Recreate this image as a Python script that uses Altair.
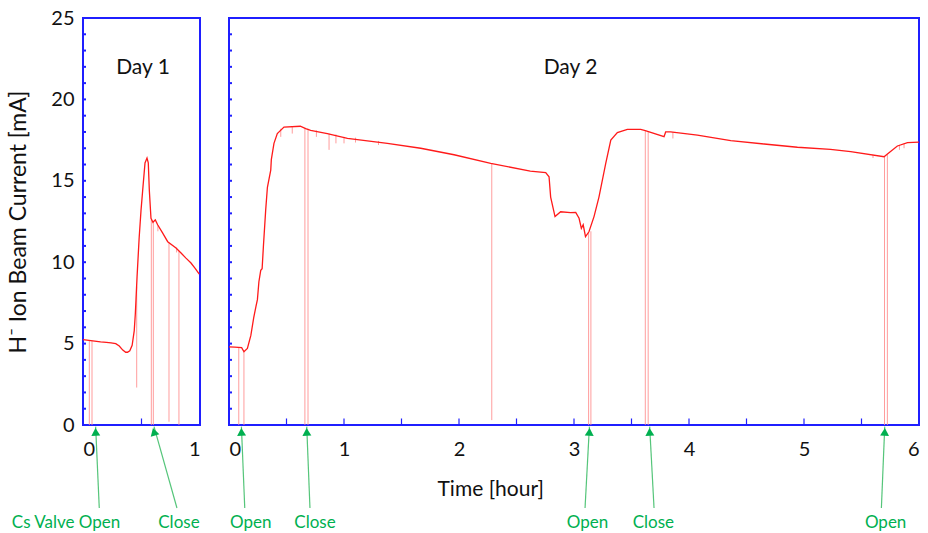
import math
import altair as alt
import pandas as pd

FONT = "Lato"
RED = "#ff1a1a"
SPIKE = "#ff8c8c"
BLUE = "#1f1fff"
GREEN = "#00b050"
ARROW = "#55c57a"

# ---------------- Day 1 data ----------------
day1_t = [0.0, 0.05, 0.10, 0.15, 0.20, 0.24, 0.28, 0.31, 0.34, 0.365, 0.38, 0.40, 0.42, 0.438,
          0.447, 0.453, 0.462, 0.48, 0.496, 0.51, 0.53, 0.547, 0.558, 0.567, 0.581, 0.598, 0.618,
          0.638, 0.68, 0.724, 0.795, 0.838, 0.88, 0.923, 0.96, 0.994]
day1_i = [5.25, 5.2, 5.15, 5.1, 5.08, 5.05, 5.0, 4.85, 4.6, 4.47, 4.47, 4.56, 4.9, 5.8,
          6.8, 7.7, 9.1, 11.5, 13.2, 14.4, 16.1, 16.4, 16.1, 14.4, 12.7, 12.45, 12.6,
          12.3, 11.8, 11.26, 10.87, 10.56, 10.25, 9.95, 9.6, 9.27]

day1_spike_t = [0.054, 0.077, 0.459, 0.584, 0.601, 0.64, 0.735, 0.80, 0.82]
day1_spike_top = [5.2, 5.18, 8.5, 12.6, 12.45, 12.25, 11.2, 10.9, 10.7]
day1_spike_bot = [0.0, 0.0, 2.3, 0.0, 0.0, 11.9, 0.2, 10.6, 0.0]

# ---------------- Day 2 data ----------------
day2_t = [0.0, 0.05, 0.11, 0.13, 0.16, 0.19, 0.215, 0.235, 0.247, 0.26, 0.276, 0.288, 0.299,
          0.319, 0.334, 0.363, 0.368, 0.391, 0.42, 0.478, 0.62, 0.667, 0.71, 0.855, 1.03,
          1.377, 1.667, 1.957, 2.276, 2.62, 2.754, 2.783, 2.797, 2.835, 2.884, 2.97, 3.015,
          3.044, 3.064, 3.08, 3.1, 3.13, 3.174, 3.217, 3.276, 3.32, 3.377, 3.464, 3.58, 3.62,
          3.783, 3.797, 3.84, 4.073, 4.363, 4.653, 4.943, 5.23, 5.406, 5.696, 5.739, 5.812,
          5.9, 6.0]
day2_i = [4.8, 4.78, 4.75, 4.5, 4.7, 5.5, 6.6, 7.3, 7.7, 8.8, 9.5, 9.6, 10.95,
          13.2, 14.6, 15.66, 16.3, 17.3, 17.9, 18.3, 18.35, 18.2, 18.1, 17.9, 17.6,
          17.3, 17.0, 16.6, 16.07, 15.6, 15.5, 15.25, 14.0, 12.8, 13.1, 13.05, 13.06,
          12.7, 12.08, 12.3, 11.57, 11.87, 12.8, 14.0, 16.07, 17.5, 17.96, 18.16, 18.16, 18.08,
          17.71, 18.0, 18.0, 17.81, 17.47, 17.26, 17.06, 16.93, 16.79, 16.48, 16.73, 17.14,
          17.34, 17.38]

day2_spike_t = [0.085, 0.13, 0.66, 0.687, 2.285, 3.127, 3.147, 3.62, 3.645, 5.70, 5.725,
                0.45, 0.55, 0.76, 0.87, 0.93, 1.0, 1.1, 1.3, 3.86, 5.6, 5.83, 5.87]
day2_spike_top = [4.78, 4.5, 18.25, 18.2, 16.05, 11.8, 11.9, 18.08, 18.05, 16.48, 16.6,
                  18.2, 18.3, 18.1, 17.9, 17.85, 17.7, 17.65, 17.45, 18.0, 16.6, 17.2, 17.3]
day2_spike_bot = [0.0, 0.0, 0.0, 0.0, 0.3, 0.0, 0.0, 0.0, 0.0, 0.0, 0.0,
                  17.7, 17.9, 17.7, 16.9, 17.3, 17.3, 17.35, 17.2, 17.6, 16.4, 16.9, 17.0]

# ---------------- annotations ----------------
day1_ann_label = ["Cs Valve Open", "Close"]
day1_ann_text_t = [-0.145, 0.82]
day1_ann_base_t = [0.139, 0.803]
day1_ann_tip_t = [0.108, 0.607]

day2_ann_label = ["Open", "Close", "Open", "Close", "Open"]
day2_ann_text_t = [0.189, 0.748, 3.117, 3.69, 5.71]
day2_ann_base_t = [0.137, 0.704, 3.096, 3.696, 5.673]
day2_ann_tip_t = [0.108, 0.676, 3.134, 3.658, 5.702]

ann_text_y = -6.0
ann_base_y = -5.1
ann_tip_y = -0.1
ann_head_y = -0.42

panel_label = ["Day 1", "Day 2"]
panel_label_t = [0.513, 2.97]
panel_label_y = 21.9

y_ticks = [0, 5, 10, 15, 20, 25]
y_minor = list(range(1, 25))
day1_xticks = [0, 1]
day2_xticks = [0, 1, 2, 3, 4, 5, 6]
day1_xminor = [0.5]
day2_xminor = [0.5, 1, 1.5, 2, 2.5, 3, 3.5, 4, 4.5, 5, 5.5]
minor_len = 0.4

x_title = "Time [hour]"
x_title_t = 2.276
x_title_y = -4.0
y_title = "H\u207b Ion Beam Current [mA]"

PW1, PW2, PH = 117, 690, 407


def make_panel(t, cur, st, stop, sbot, ann_lab, ann_tt, ann_bt, ann_pt, xdom, xticks,
               xminor, width, plabel, plabel_t, first):
    xs = alt.Scale(domain=xdom, nice=False, zero=False)
    ys = alt.Scale(domain=[0, 25], nice=False, zero=False)
    if first:
        yax = alt.Axis(values=y_ticks, ticks=False, domain=False, grid=False,
                       labelFont=FONT, labelFontSize=20, labelColor="#111111",
                       labelPadding=9, title=y_title, titleFont=FONT, titleFontSize=23,
                       titleFontWeight="normal", titleColor="#111111", titlePadding=20)
    else:
        yax = None
    xax = alt.Axis(values=xticks, ticks=False, domain=False, grid=False,
                   labelFont=FONT, labelFontSize=20, labelColor="#111111",
                   labelPadding=14, title=None, format="d")

    line_df = pd.DataFrame({"t": t, "i": cur})
    spike_df = pd.DataFrame({"t": st, "top": stop, "bot": sbot})
    ann_df = pd.DataFrame({"label": ann_lab, "tt": ann_tt, "bt": ann_bt, "pt": ann_pt})
    ann_df["ty"] = ann_text_y
    ann_df["by"] = ann_base_y
    ann_df["py"] = ann_tip_y
    ann_df["hy"] = ann_head_y
    # arrowhead rotation follows the arrow direction in pixel space
    pxu = width / (xdom[1] - xdom[0])
    pyu = PH / 25.0
    ann_df["ang"] = [
        (math.degrees(math.atan2((p - b) * pxu, (ann_tip_y - ann_base_y) * pyu)) + 360) % 360
        for p, b in zip(ann_pt, ann_bt)
    ]
    yminor_df = pd.DataFrame({"v": y_minor})
    xminor_df = pd.DataFrame({"t": xminor, "y0": [0.0] * len(xminor),
                              "y1": [minor_len] * len(xminor)})
    lab_df = pd.DataFrame({"label": [plabel], "t": [plabel_t], "y": [panel_label_y]})

    spikes = alt.Chart(spike_df).mark_rule(color=SPIKE, strokeWidth=1, opacity=0.85).encode(
        x=alt.X("t:Q", scale=xs, axis=xax),
        y=alt.Y("top:Q", scale=ys, axis=yax),
        y2="bot:Q",
    )
    line = alt.Chart(line_df).mark_line(color=RED, strokeWidth=1.3).encode(
        x=alt.X("t:Q", scale=xs, axis=xax), y=alt.Y("i:Q", scale=ys, axis=yax)
    )
    ymin = alt.Chart(yminor_df).mark_rule(color=BLUE, strokeWidth=2).encode(
        y=alt.Y("v:Q", scale=ys),
        x=alt.value(0),
        x2=alt.value(3),
    )
    xmin = alt.Chart(xminor_df).mark_rule(color=BLUE, strokeWidth=1.2).encode(
        x=alt.X("t:Q", scale=xs), y=alt.Y("y0:Q", scale=ys), y2="y1:Q"
    )
    plab = alt.Chart(lab_df).mark_text(font=FONT, fontSize=21, color="#111111").encode(
        x=alt.X("t:Q", scale=xs), y=alt.Y("y:Q", scale=ys), text="label:N"
    )
    arrows = alt.Chart(ann_df).mark_rule(color=ARROW, strokeWidth=1.2).encode(
        x=alt.X("bt:Q", scale=xs), x2="pt:Q",
        y=alt.Y("by:Q", scale=ys), y2="py:Q",
    )
    heads = alt.Chart(ann_df).mark_point(shape="triangle-up", filled=True, color=GREEN,
                                         size=80, opacity=1).encode(
        x=alt.X("pt:Q", scale=xs), y=alt.Y("hy:Q", scale=ys),
        angle=alt.Angle("ang:Q", scale=None)
    )
    texts = alt.Chart(ann_df).mark_text(font=FONT, fontSize=17, color=GREEN,
                                        baseline="middle").encode(
        x=alt.X("tt:Q", scale=xs), y=alt.Y("ty:Q", scale=ys), text="label:N"
    )
    layers = [spikes, line, ymin, xmin, plab, arrows, heads, texts]
    if not first:
        tdf = pd.DataFrame({"label": [x_title], "t": [x_title_t], "y": [x_title_y]})
        layers.append(
            alt.Chart(tdf).mark_text(font=FONT, fontSize=21, color="#111111").encode(
                x=alt.X("t:Q", scale=xs), y=alt.Y("y:Q", scale=ys), text="label:N"
            )
        )
    return alt.layer(*layers).properties(width=width, height=PH)


p1 = make_panel(day1_t, day1_i, day1_spike_t, day1_spike_top, day1_spike_bot,
                day1_ann_label, day1_ann_text_t, day1_ann_base_t, day1_ann_tip_t,
                [0, 1], day1_xticks, day1_xminor, PW1, panel_label[0], panel_label_t[0], True)
p2 = make_panel(day2_t, day2_i, day2_spike_t, day2_spike_top, day2_spike_bot,
                day2_ann_label, day2_ann_text_t, day2_ann_base_t, day2_ann_tip_t,
                [0, 6], day2_xticks, day2_xminor, PW2, panel_label[1], panel_label_t[1], False)

chart = alt.hconcat(p1, p2, spacing=29, bounds="flush").properties(
    padding={"left": 6, "top": 7, "right": 2, "bottom": 0},
    background="white",
).configure_view(stroke=BLUE, strokeWidth=2).configure_concat(spacing=29)

chart.save("out.html", embed_options={"renderer": "svg", "actions": False})
